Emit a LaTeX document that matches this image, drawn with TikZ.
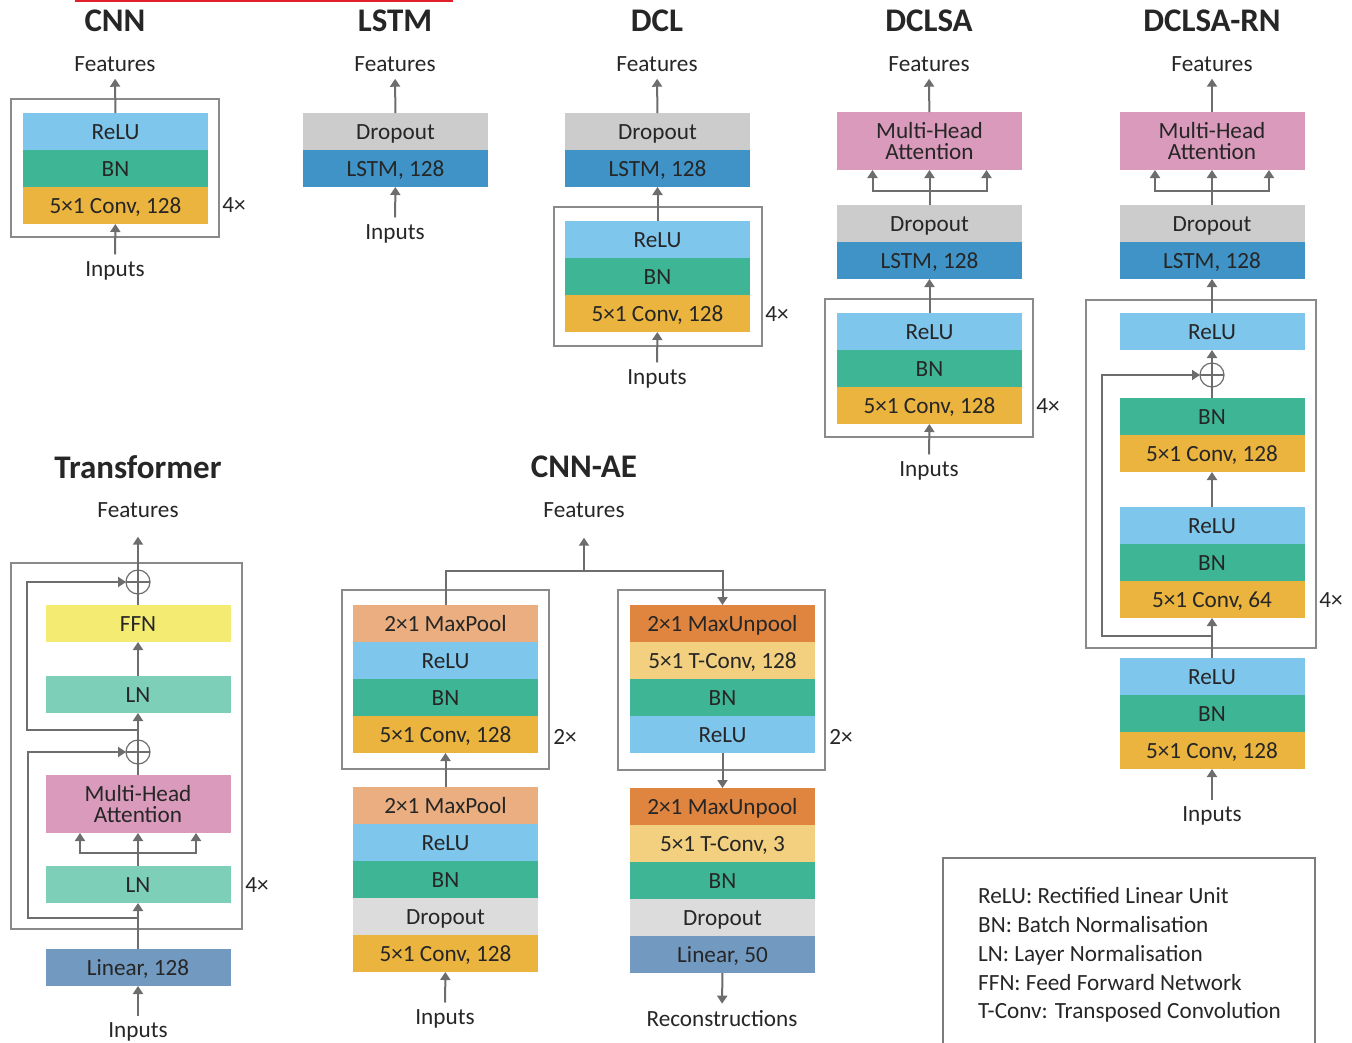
\documentclass[tikz,border=0pt]{standalone}
\usepackage{fontspec}
\setmainfont{Carlito}
\usepackage{xcolor}
\usepackage{tikz}
\usetikzlibrary{positioning, arrows.meta}
\definecolor{reluc}{HTML}{7FC6ED}
\definecolor{bnc}{HTML}{3EB595}
\definecolor{convc}{HTML}{EAB43F}
\definecolor{dropc}{HTML}{CCCCCC}
\definecolor{droplc}{HTML}{DCDCDC}
\definecolor{lstmc}{HTML}{3F93C6}
\definecolor{mhac}{HTML}{D99ABB}
\definecolor{ffnc}{HTML}{F3EB72}
\definecolor{lnc}{HTML}{7DCFB7}
\definecolor{linc}{HTML}{7299C0}
\definecolor{poolc}{HTML}{EBAE80}
\definecolor{unpoolc}{HTML}{E0853F}
\definecolor{tconvc}{HTML}{F2D07F}
\definecolor{txtc}{HTML}{262626}
\definecolor{arrowc}{HTML}{6D6D6D}
\definecolor{framec}{HTML}{8A8A8A}
\definecolor{redc}{HTML}{E0202A}

\tikzset{
    blk/.style={minimum width=185pt, minimum height=37pt, inner sep=0pt, outer sep=0pt, align=center,
        text height=15pt, text depth=0pt},
    tall/.style={minimum width=185pt, minimum height=58pt, inner sep=0pt, outer sep=0pt, align=center,
        font=\fontsize{23.2}{21}\selectfont},
    lbl/.style={inner xsep=0pt, inner ysep=7pt},
    ttl/.style={font=\fontsize{33}{36}\selectfont\bfseries},
    frm/.style={draw=framec, line width=1.5pt},
    arr/.style={draw=arrowc, line width=2pt, -{Triangle[length=8pt,width=10pt]}},
    ln/.style={draw=arrowc, line width=2pt},
    sum/.style={circle, draw=arrowc, line width=1.2pt, minimum size=24pt, inner sep=0pt, outer sep=0pt,
        path picture={\draw[arrowc, line width=1.2pt]
            (path picture bounding box.north) -- (path picture bounding box.south)
            (path picture bounding box.west) -- (path picture bounding box.east);}}
}

\begin{document}
\begin{tikzpicture}[x=1pt, y=-1pt, font=\fontsize{23.2}{27}\selectfont, text=txtc]
    \useasboundingbox (0,0) rectangle (1352,1042);
    \draw[redc, line width=2pt] (75,1) -- (453,1);

    % CNN
    \node[ttl] (cnnttl) at (115,21) {CNN};
    \node[lbl] (cnnfeat) at (115,64) {Features};
    \node[blk, fill=reluc] (cnnrelu) at (115.5,131.5) {ReLU};
    \node[blk, fill=bnc, below=0pt of cnnrelu] (cnnbn) {BN};
    \node[blk, fill=convc, below=0pt of cnnbn] (cnnconv) {5×1 Conv, 128};
    \draw[frm] (11,99) rectangle (219,237);
    \node (cnnrep) at (234,205) {4×};
    \node[lbl] (cnnin) at (115,271) {Inputs};
    \draw[arr] (cnnrelu) -- (cnnfeat);
    \draw[arr] (cnnin) -- (cnnconv);

    % LSTM
    \node[ttl] (lsttl) at (395,21) {LSTM};
    \node[lbl] (lsfeat) at (395,64) {Features};
    \node[blk, fill=dropc] (lsdrop) at (395.5,131.5) {Dropout};
    \node[blk, fill=lstmc, below=0pt of lsdrop] (lslstm) {LSTM, 128};
    \node[lbl] (lsin) at (395,234) {Inputs};
    \draw[arr] (lsdrop) -- (lsfeat);
    \draw[arr] (lsin) -- (lslstm);

    % DCL
    \node[ttl] (dclttl) at (657,21) {DCL};
    \node[lbl] (dclfeat) at (657,64) {Features};
    \node[blk, fill=dropc] (dcldrop) at (657.5,131.5) {Dropout};
    \node[blk, fill=lstmc, below=0pt of dcldrop] (dcllstm) {LSTM, 128};
    \node[blk, fill=reluc] (dclrelu) at (657.5,239.5) {ReLU};
    \node[blk, fill=bnc, below=0pt of dclrelu] (dclbn) {BN};
    \node[blk, fill=convc, below=0pt of dclbn] (dclconv) {5×1 Conv, 128};
    \draw[frm] (554,207) rectangle (762,346);
    \node (dclrep) at (777,314) {4×};
    \node[lbl] (dclin) at (657,379) {Inputs};
    \draw[arr] (dcldrop) -- (dclfeat);
    \draw[arr] (dclrelu) -- (dcllstm);
    \draw[arr] (dclin) -- (dclconv);

    % DCLSA
    \node[ttl] (sattl) at (929,21) {DCLSA};
    \node[lbl] (safeat) at (929,64) {Features};
    \node[tall, fill=mhac] (samha) at (929.5,141) {Multi-Head\\Attention};
    \node[blk, fill=dropc] (sadrop) at (929.5,223.5) {Dropout};
    \node[blk, fill=lstmc, below=0pt of sadrop] (salstm) {LSTM, 128};
    \node[blk, fill=reluc] (sarelu) at (929.5,331.5) {ReLU};
    \node[blk, fill=bnc, below=0pt of sarelu] (sabn) {BN};
    \node[blk, fill=convc, below=0pt of sabn] (saconv) {5×1 Conv, 128};
    \draw[frm] (825,299) rectangle (1033,437);
    \node (sarep) at (1048,406) {4×};
    \node[lbl] (sain) at (929,471) {Inputs};
    \draw[arr] (samha) -- (safeat);
    \draw[ln] (sadrop.north) -- ++(0,-14) coordinate (safork);
    \draw[arr] (safork) -- (samha);
    \draw[arr] (safork) -| ([xshift=-57pt]samha.south);
    \draw[arr] (safork) -| ([xshift=57pt]samha.south);
    \draw[arr] (sarelu) -- (salstm);
    \draw[arr] (sain) -- (saconv);

    % DCLSA-RN
    \node[ttl] (rnttl) at (1212,21) {DCLSA-RN};
    \node[lbl] (rnfeat) at (1212,64) {Features};
    \node[tall, fill=mhac] (rnmha) at (1212,141) {Multi-Head\\Attention};
    \node[blk, fill=dropc] (rndrop) at (1212,223.5) {Dropout};
    \node[blk, fill=lstmc, below=0pt of rndrop] (rnlstm) {LSTM, 128};
    \node[blk, fill=reluc] (rnrelu) at (1212,331.5) {ReLU};
    \node[sum] (rnsum) at (1212,375) {};
    \node[blk, fill=bnc] (rnbn) at (1212,416.5) {BN};
    \node[blk, fill=convc, below=0pt of rnbn] (rnconv) {5×1 Conv, 128};
    \node[blk, fill=reluc] (rnrelub) at (1212,525.5) {ReLU};
    \node[blk, fill=bnc, below=0pt of rnrelub] (rnbnb) {BN};
    \node[blk, fill=convc, below=0pt of rnbnb] (rnconvb) {5×1 Conv, 64};
    \draw[frm] (1086,300) rectangle (1316,648);
    \node (rnrep) at (1331,600) {4×};
    \node[blk, fill=reluc] (rnreluc) at (1212,676.5) {ReLU};
    \node[blk, fill=bnc, below=0pt of rnreluc] (rnbnc) {BN};
    \node[blk, fill=convc, below=0pt of rnbnc] (rnconvc) {5×1 Conv, 128};
    \node[lbl] (rnin) at (1212,816) {Inputs};
    \coordinate (rnsplit) at (1212,636);
    \draw[arr] (rnmha) -- (rnfeat);
    \draw[ln] (rndrop.north) -- ++(0,-14) coordinate (rnfork);
    \draw[arr] (rnfork) -- (rnmha);
    \draw[arr] (rnfork) -| ([xshift=-57pt]rnmha.south);
    \draw[arr] (rnfork) -| ([xshift=57pt]rnmha.south);
    \draw[arr] (rnrelu) -- (rnlstm);
    \draw[arr] (rnsum) -- (rnrelu);
    \draw[ln] (rnbn) -- (rnsum);
    \draw[arr] (rnrelub) -- (rnconv);
    \draw[ln] (rnreluc) -- (rnsplit);
    \draw[arr] (rnsplit) -- (rnconvb);
    \draw[arr] (rnsplit) -- ++(-110,0) |- (rnsum.west);
    \draw[arr] (rnin) -- (rnconvc);

    % Transformer
    \node[ttl] (tfttl) at (138,467) {Transformer};
    \node[lbl] (tffeat) at (138,510) {Features};
    \node[sum] (tfsumb) at (138,582) {};
    \node[blk, fill=ffnc] (tfffn) at (138,623.5) {FFN};
    \node[blk, fill=lnc] (tflnb) at (138,694.5) {LN};
    \node[sum] (tfsuma) at (138,752) {};
    \node[tall, fill=mhac] (tfmha) at (138,804) {Multi-Head\\Attention};
    \node[blk, fill=lnc] (tflna) at (138,884.5) {LN};
    \node[blk, fill=linc] (tflin) at (138,967.5) {Linear, 128};
    \draw[frm] (11,563) rectangle (242,929);
    \node (tfrep) at (257,885) {4×};
    \node[lbl] (tfin) at (138,1032) {Inputs};
    \coordinate (tfskipa) at (138,918);
    \coordinate (tfskipb) at (138,730);
    \draw[arr] (tfin) -- (tflin);
    \draw[arr] (tflin) -- (tflna);
    \draw[ln] (tflna.north) -- ++(0,-13) coordinate (tffork);
    \draw[arr] (tffork) -- (tfmha);
    \draw[arr] (tffork) -| ([xshift=-58pt]tfmha.south);
    \draw[arr] (tffork) -| ([xshift=58pt]tfmha.south);
    \draw[ln] (tfmha) -- (tfsuma);
    \draw[arr] (tfskipa) -- ++(-110,0) |- (tfsuma.west);
    \draw[arr] (tfsuma) -- (tflnb);
    \draw[arr] (tflnb) -- (tfffn);
    \draw[ln] (tfffn) -- (tfsumb);
    \draw[arr] (tfskipb) -- ++(-111,0) |- (tfsumb.west);
    \draw[arr, shorten >=12pt] (tfsumb) -- (tffeat);

    % CNN-AE
    \node[ttl] (aettl) at (584,467) {CNN-AE};
    \node[lbl] (aefeat) at (584,510) {Features};
    \coordinate (aejoin) at (584,571);
    \node[blk, fill=poolc] (enpool) at (445.5,623.5) {2×1 MaxPool};
    \node[blk, fill=reluc, below=0pt of enpool] (enrelu) {ReLU};
    \node[blk, fill=bnc, below=0pt of enrelu] (enbn) {BN};
    \node[blk, fill=convc, below=0pt of enbn] (enconv) {5×1 Conv, 128};
    \draw[frm] (342,590) rectangle (549,769);
    \node (enrep) at (565,737) {2×};
    \node[blk, fill=poolc] (enpoolb) at (445.5,805.5) {2×1 MaxPool};
    \node[blk, fill=reluc, below=0pt of enpoolb] (enrelub) {ReLU};
    \node[blk, fill=bnc, below=0pt of enrelub] (enbnb) {BN};
    \node[blk, fill=droplc, below=0pt of enbnb] (endrop) {Dropout};
    \node[blk, fill=convc, below=0pt of endrop] (enconvb) {5×1 Conv, 128};
    \node[lbl] (enin) at (445,1019) {Inputs};
    \node[blk, fill=unpoolc] (deunpool) at (722.5,623.5) {2×1 MaxUnpool};
    \node[blk, fill=tconvc, below=0pt of deunpool] (detconv) {5×1 T-Conv, 128};
    \node[blk, fill=bnc, below=0pt of detconv] (debn) {BN};
    \node[blk, fill=reluc, below=0pt of debn] (derelu) {ReLU};
    \draw[frm] (618,590) rectangle (825,770);
    \node (derep) at (841,737) {2×};
    \node[blk, fill=unpoolc] (deunpoolb) at (722.5,806.5) {2×1 MaxUnpool};
    \node[blk, fill=tconvc, below=0pt of deunpoolb] (detconvb) {5×1 T-Conv, 3};
    \node[blk, fill=bnc, below=0pt of detconvb] (debnb) {BN};
    \node[blk, fill=droplc, below=0pt of debnb] (dedrop) {Dropout};
    \node[blk, fill=linc, below=0pt of dedrop] (delin) {Linear, 50};
    \node[lbl] (derec) at (722,1019) {Reconstructions};
    \draw[arr, shorten >=13pt] (aejoin) -- (aefeat);
    \draw[ln] (enpool.north) |- (aejoin);
    \draw[arr] (aejoin) -| (deunpool.north);
    \draw[arr] (enpoolb) -- (enconv);
    \draw[arr] (enin) -- (enconvb);
    \draw[arr] (derelu) -- (deunpoolb);
    \draw[arr] (delin) -- (derec);

    % legend
    \draw[draw=framec!90!black, line width=2pt] (943,1060) |- (1315,858) -- (1315,1060);
    \node[anchor=west, align=left, inner sep=0pt, font=\fontsize{23.2}{28.8}\selectfont] (legend) at (978,955)
        {ReLU: Rectified Linear Unit\\BN: Batch Normalisation\\LN: Layer Normalisation\\FFN: Feed Forward Network\\T-Conv: Transposed Convolution};
\end{tikzpicture}
\end{document}
